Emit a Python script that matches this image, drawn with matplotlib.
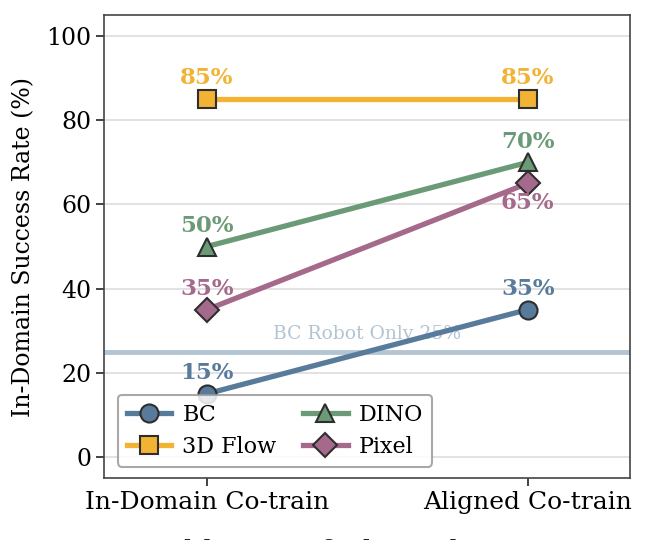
import numpy as np
import matplotlib.pyplot as plt

plt.rcParams['font.family'] = 'DejaVu Serif'

conditions = ['In-Domain Co-train', 'Aligned Co-train']
methods = ['BC', '3D Flow', 'DINO', 'Pixel']
bc = [15, 35]
flow3d = [85, 85]
dino = [50, 70]
pixel = [35, 65]
baseline = 25

colors = {'BC': '#587b9b', '3D Flow': '#f2b233', 'DINO': '#6b9a76', 'Pixel': '#a56a8b'}
markers = {'BC': 'o', '3D Flow': 's', 'DINO': '^', 'Pixel': 'D'}
values = {'BC': bc, '3D Flow': flow3d, 'DINO': dino, 'Pixel': pixel}
# label placement: +1 above marker, -1 below
label_side = {'BC': [1, 1], '3D Flow': [1, 1], 'DINO': [1, 1], 'Pixel': [1, -1]}

fig = plt.figure(figsize=(6.6, 5.4), dpi=100)
ax = fig.add_axes([0.158, 0.115, 0.797, 0.857])

x = np.arange(len(conditions))

ax.axhline(baseline, color='#b3c4d3', lw=3.5, zorder=1)
ax.text(0.5, baseline + 2.0, 'BC Robot Only 25%', color='#b3c4d3', fontsize=13.5,
        ha='center', va='bottom', zorder=1)

for m in methods:
    ax.plot(x, values[m], color=colors[m], lw=3.8, marker=markers[m],
            markersize=13 if m != 'Pixel' else 12, markerfacecolor=colors[m],
            markeredgecolor='#2e2e2e', markeredgewidth=1.5, label=m, zorder=3)
    for xi, v, s in zip(x, values[m], label_side[m]):
        ax.annotate(f'{v}%', (xi, v), xytext=(0, 15 if s > 0 else -14),
                    textcoords='offset points', ha='center', va='center',
                    fontsize=16.5, fontweight='bold', color=colors[m], zorder=4)

ax.set_xlim(-0.32, 1.32)
ax.set_ylim(-5, 105)
ax.set_xticks(x)
ax.set_xticklabels(conditions, fontsize=18)
ax.set_yticks([0, 20, 40, 60, 80, 100])
ax.tick_params(axis='y', labelsize=17, length=6, width=1.2, color='#222222')
ax.tick_params(axis='x', length=6, width=1.2, color='#222222')
ax.set_ylabel('In-Domain Success Rate (%)', fontsize=17, labelpad=8)
ax.yaxis.grid(True, color='#dddddd', lw=1.2, zorder=0)
ax.set_axisbelow(True)
for sp in ax.spines.values():
    sp.set_color('#444444')
    sp.set_linewidth(1.2)

leg = ax.legend(loc='lower left', ncol=2, fontsize=16, frameon=True,
                fancybox=True, edgecolor='#999999', framealpha=0.85,
                handlelength=2.0, handletextpad=0.5, columnspacing=1.2,
                borderpad=0.4, labelspacing=0.45, bbox_to_anchor=(0.005, 0.0))
leg.get_frame().set_linewidth(1.5)

fig.text(0.0, -0.056, 'Figure 8:  Ablation of Aligned Co-Train', fontsize=22,
         color='#222222', ha='left', va='bottom')

fig.savefig('out.png', dpi=100)
